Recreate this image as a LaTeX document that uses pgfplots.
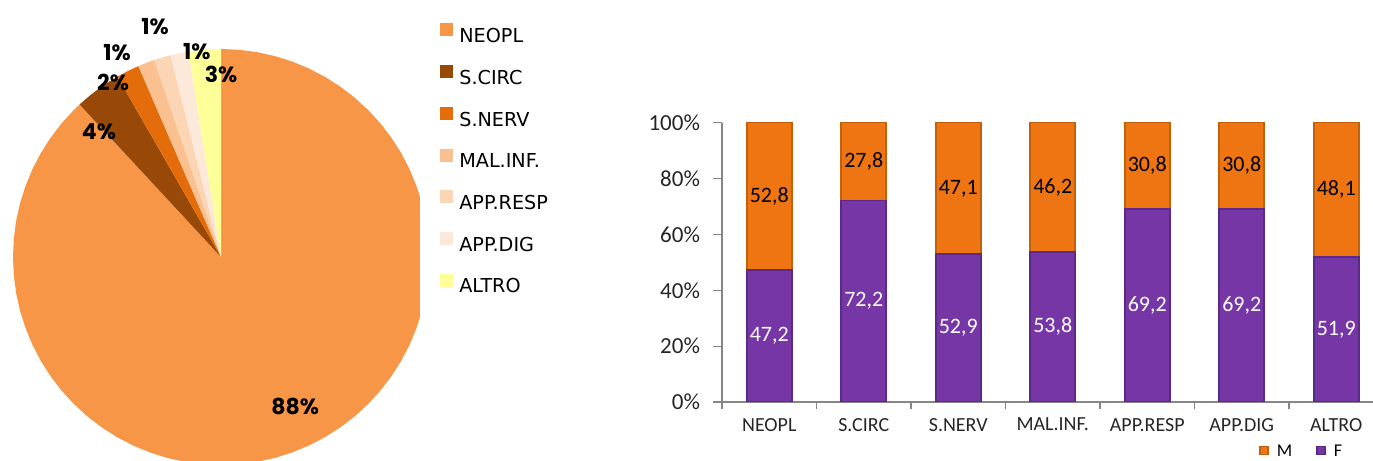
\documentclass[border=0pt]{standalone}
\usepackage{fontspec}
\setmainfont{Carlito}
\newfontfamily\legfont{DejaVu Sans}
\newfontfamily\piefont{Poppins}
\usepackage{pgfplots}
\pgfplotsset{compat=1.18}
\usepgfplotslibrary{polar}
\definecolor{cNEOPL}{HTML}{F79646}
\definecolor{cSCIRC}{HTML}{984807}
\definecolor{cSNERV}{HTML}{E46C0A}
\definecolor{cMAL}{HTML}{FAC090}
\definecolor{cRESP}{HTML}{FCD5B5}
\definecolor{cDIG}{HTML}{FDE9D9}
\definecolor{cALTRO}{HTML}{FFFF99}
\definecolor{barM}{HTML}{EE7512}
\definecolor{barMd}{HTML}{C45F0A}
\definecolor{barF}{HTML}{7636A6}
\definecolor{barFd}{HTML}{5E2888}
\definecolor{axgray}{HTML}{868686}
\begin{document}
\begin{tikzpicture}
\path[use as bounding box] (0pt,0pt) rectangle (686.5pt,230.5pt);
% ---------------- pie ----------------
\begin{axis}[at={(0pt,0pt)}, anchor=south west, scale only axis,
  width=210pt, height=230.5pt,
  xmin=-1.0625, xmax=0.9567, ymin=-0.9808, ymax=1.2356,
  hide axis, data cs=polar,
  legend style={at={(1.046,0.950)}, anchor=north west, draw=none, fill=none,
    inner sep=0pt, row sep=9.8pt, font=\legfont\fontsize{9.6}{11}\selectfont,
    nodes={inner sep=0pt}, cells={anchor=west}},
  legend image code/.code={\fill[#1] (0pt,0.25pt) rectangle (6.5pt,6.75pt); \path (9.8pt,0pt);},
]
\addplot[fill=cNEOPL, draw=none] coordinates {(0,0) (132.84,1) (135,1) (140,1) (145,1) (150,1) (155,1) (160,1) (165,1) (170,1) (175,1) (180,1) (185,1) (190,1) (195,1) (200,1) (205,1) (210,1) (215,1) (220,1) (225,1) (230,1) (235,1) (240,1) (245,1) (250,1) (255,1) (260,1) (265,1) (270,1) (275,1) (280,1) (285,1) (290,1) (295,1) (300,1) (305,1) (310,1) (315,1) (320,1) (325,1) (330,1) (335,1) (340,1) (345,1) (350,1) (355,1) (360,1) (365,1) (370,1) (375,1) (380,1) (385,1) (390,1) (395,1) (400,1) (405,1) (410,1) (415,1) (420,1) (425,1) (430,1) (435,1) (440,1) (445,1) (450,1) (0,0)};
\addplot[fill=cSCIRC, draw=none] coordinates {(0,0) (119.88,1) (123,1) (126,1) (129,1) (132.84,1) (0,0)};
\addplot[fill=cSNERV, draw=none] coordinates {(0,0) (113.40,1) (116.6,1) (119.88,1) (0,0)};
\addplot[fill=cMAL, draw=none] coordinates {(0,0) (108.72,1) (111,1) (113.40,1) (0,0)};
\addplot[fill=cRESP, draw=none] coordinates {(0,0) (104.04,1) (106.4,1) (108.72,1) (0,0)};
\addplot[fill=cDIG, draw=none] coordinates {(0,0) (99,1) (101.5,1) (104.04,1) (0,0)};
\addplot[fill=cALTRO, draw=none] coordinates {(0,0) (90,1) (93,1) (96,1) (99,1) (0,0)};
\legend{NEOPL,S.CIRC,S.NERV,MAL.INF.,APP.RESP,APP.DIG,ALTRO}
\addplot[draw=none, forget plot, nodes near coords, point meta=explicit symbolic,
  every node near coord/.append style={anchor=center, text=black,
    font=\piefont\bfseries\fontsize{11}{13}\selectfont}]
  coordinates {(296.3,0.804)[88\%] (134.3,0.840)[4\%] (121.8,0.985)[2\%] (117.0,1.101)[1\%] (106.0,1.150)[1\%] (96.7,0.993)[1\%] (90,0.880)[3\%]};
\end{axis}
% ---------------- bars ----------------
\begin{axis}[at={(361pt,29.5pt)}, anchor=south west, scale only axis,
  width=330.75pt, height=139.65pt,
  ybar stacked, bar width=22.5pt,
  xmin=-0.5, xmax=6.5, ymin=0, ymax=100,
  axis x line*=bottom, axis y line*=left,
  axis line style={axgray, line width=0.6pt},
  xtick={0,...,6}, xticklabels={NEOPL,S.CIRC,S.NERV,MAL.INF.,APP.RESP,APP.DIG,ALTRO},
  minor xtick={-0.5,0.5,...,6.5},
  major x tick style={draw=none},
  minor x tick style={axgray, line width=0.6pt},
  tick align=outside,
  ytick={0,20,...,100}, yticklabel={\pgfmathprintnumber{\tick}\%},
  y tick style={axgray, line width=0.6pt},
  major tick length=4.5pt, minor tick length=3.5pt,
  /pgf/number format/assume math mode=true,
  xticklabel style={font=\fontsize{10}{12}\selectfont, text=black!85},
  yticklabel style={font=\fontsize{11.5}{13}\selectfont, text=black!85, xshift=-3pt},
  legend columns=2, reverse legend,
  legend style={at={(0.8118,-0.179)}, anchor=west, draw=none, fill=none,
    inner sep=0pt, font=\fontsize{9}{10}\selectfont, nodes={inner sep=0pt},
    /tikz/every even column/.append style={column sep=12pt}},
  legend image code/.code={\fill[#1] (0pt,-1.2pt) rectangle (4pt,2.8pt); \path (8pt,0pt);},
]
\addplot[fill=barF, draw=barFd, line width=0.8pt] coordinates {(0,47.2) (1,72.2) (2,52.9) (3,53.8) (4,69.2) (5,69.2) (6,51.9)};
\addplot[fill=barM, draw=barMd, line width=0.8pt] coordinates {(0,52.8) (1,27.8) (2,47.1) (3,46.2) (4,30.8) (5,30.8) (6,48.1)};
\legend{F,M}
\end{axis}
\begin{axis}[at={(361pt,29.5pt)}, anchor=south west, scale only axis,
  width=330.75pt, height=139.65pt, hide axis, clip=false,
  xmin=-0.5, xmax=6.5, ymin=0, ymax=100]
\addplot[draw=none, nodes near coords, point meta=explicit symbolic,
  every node near coord/.append style={anchor=center, text=white, font=\fontsize{11}{13}\selectfont}]
  coordinates {(0,23.6)[47,2] (1,36.1)[72,2] (2,26.45)[52,9] (3,26.9)[53,8] (4,34.6)[69,2] (5,34.6)[69,2] (6,25.95)[51,9]};
\addplot[draw=none, nodes near coords, point meta=explicit symbolic,
  every node near coord/.append style={anchor=center, text=black, font=\fontsize{11}{13}\selectfont}]
  coordinates {(0,73.6)[52,8] (1,86.1)[27,8] (2,76.45)[47,1] (3,76.9)[46,2] (4,84.6)[30,8] (5,84.6)[30,8] (6,75.95)[48,1]};
\end{axis}
\end{tikzpicture}
\end{document}
